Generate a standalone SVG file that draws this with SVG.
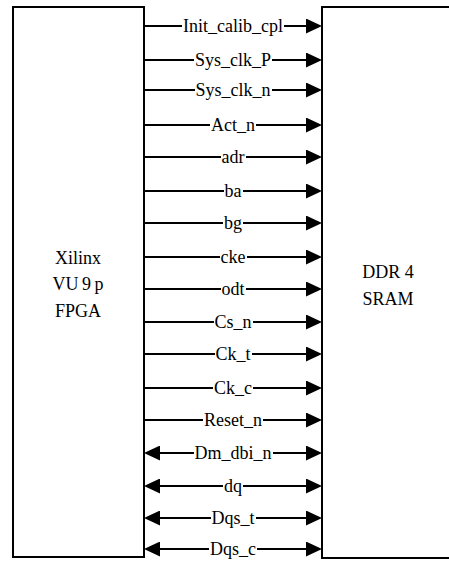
<svg xmlns="http://www.w3.org/2000/svg" width="449" height="562" viewBox="0 0 449 562">
  <style>
    .box { fill: #fff; stroke: #000; stroke-width: 2; }
    .wire { fill: none; stroke: #000; stroke-width: 2; }
    .out { marker-end: url(#head); }
    .bi { marker-start: url(#head); marker-end: url(#head); }
    .lbl { font-family: "Liberation Serif", "Times New Roman", serif; font-size: 18px; fill: #000; text-anchor: middle; }
    .gap { fill: #fff; }
  </style>
  <defs>
    <marker id="head" viewBox="0 0 16 15" markerWidth="16" markerHeight="15" refX="12" refY="7.5" markerUnits="userSpaceOnUse" orient="auto-start-reverse">
      <path d="M0,0 L16,7.5 L0,15 Z" fill="#000"/>
    </marker>
  </defs>
  <rect width="449" height="562" fill="#fff"/>

  <g id="fpga">
    <rect class="box" x="13" y="7" width="131" height="550"/>
    <text class="lbl" x="78" y="264">Xilinx</text>
    <text class="lbl" x="78" y="290" word-spacing="-1">VU 9 p</text>
    <text class="lbl" x="78" y="317">FPGA</text>
  </g>

  <g id="ddr4">
    <rect class="box" x="322" y="7" width="150" height="551"/>
    <text class="lbl" x="388" y="278">DDR 4</text>
    <text class="lbl" x="388" y="305">SRAM</text>
  </g>

  <g id="connectors">
    <!-- FPGA to memory -->
    <path class="wire out" d="M144,26 H318"/>
    <path class="wire out" d="M144,60 H318"/>
    <path class="wire out" d="M144,90 H318"/>
    <path class="wire out" d="M144,125 H318"/>
    <path class="wire out" d="M144,157 H318"/>
    <path class="wire out" d="M144,191 H318"/>
    <path class="wire out" d="M144,223 H318"/>
    <path class="wire out" d="M144,257 H318"/>
    <path class="wire out" d="M144,289 H318"/>
    <path class="wire out" d="M144,322 H318"/>
    <path class="wire out" d="M144,354 H318"/>
    <path class="wire out" d="M144,388 H318"/>
    <path class="wire out" d="M144,420 H318"/>
    <!-- bidirectional data lines -->
    <path class="wire bi" d="M148,453 H318"/>
    <path class="wire bi" d="M148,486 H318"/>
    <path class="wire bi" d="M148,518 H318"/>
    <path class="wire bi" d="M148,549 H318"/>

    <!-- white gaps so each wire breaks around its label -->
    <rect class="gap" x="182" y="23" width="102" height="6"/>
    <rect class="gap" x="194" y="57" width="78" height="6"/>
    <rect class="gap" x="195" y="87" width="77" height="6"/>
    <rect class="gap" x="210" y="122" width="46" height="6"/>
    <rect class="gap" x="221" y="154" width="25" height="6"/>
    <rect class="gap" x="224" y="188" width="19" height="6"/>
    <rect class="gap" x="223" y="220" width="20" height="6"/>
    <rect class="gap" x="220" y="254" width="27" height="6"/>
    <rect class="gap" x="221" y="286" width="25" height="6"/>
    <rect class="gap" x="214" y="319" width="39" height="6"/>
    <rect class="gap" x="215" y="351" width="37" height="6"/>
    <rect class="gap" x="213" y="385" width="40" height="6"/>
    <rect class="gap" x="203" y="417" width="60" height="6"/>
    <rect class="gap" x="194" y="450" width="79" height="6"/>
    <rect class="gap" x="223" y="483" width="20" height="6"/>
    <rect class="gap" x="211" y="515" width="45" height="6"/>
    <rect class="gap" x="209" y="546" width="48" height="6"/>

    <text class="lbl" x="233" y="32">Init_calib_cpl</text>
    <text class="lbl" x="233" y="66">Sys_clk_P</text>
    <text class="lbl" x="233" y="96">Sys_clk_n</text>
    <text class="lbl" x="233" y="131">Act_n</text>
    <text class="lbl" x="233" y="163">adr</text>
    <text class="lbl" x="233" y="197">ba</text>
    <text class="lbl" x="233" y="229">bg</text>
    <text class="lbl" x="233" y="263">cke</text>
    <text class="lbl" x="233" y="295">odt</text>
    <text class="lbl" x="233" y="328">Cs_n</text>
    <text class="lbl" x="233" y="360">Ck_t</text>
    <text class="lbl" x="233" y="394">Ck_c</text>
    <text class="lbl" x="233" y="426">Reset_n</text>
    <text class="lbl" x="233" y="459">Dm_dbi_n</text>
    <text class="lbl" x="233" y="492">dq</text>
    <text class="lbl" x="233" y="524">Dqs_t</text>
    <text class="lbl" x="233" y="555">Dqs_c</text>
  </g>
</svg>
